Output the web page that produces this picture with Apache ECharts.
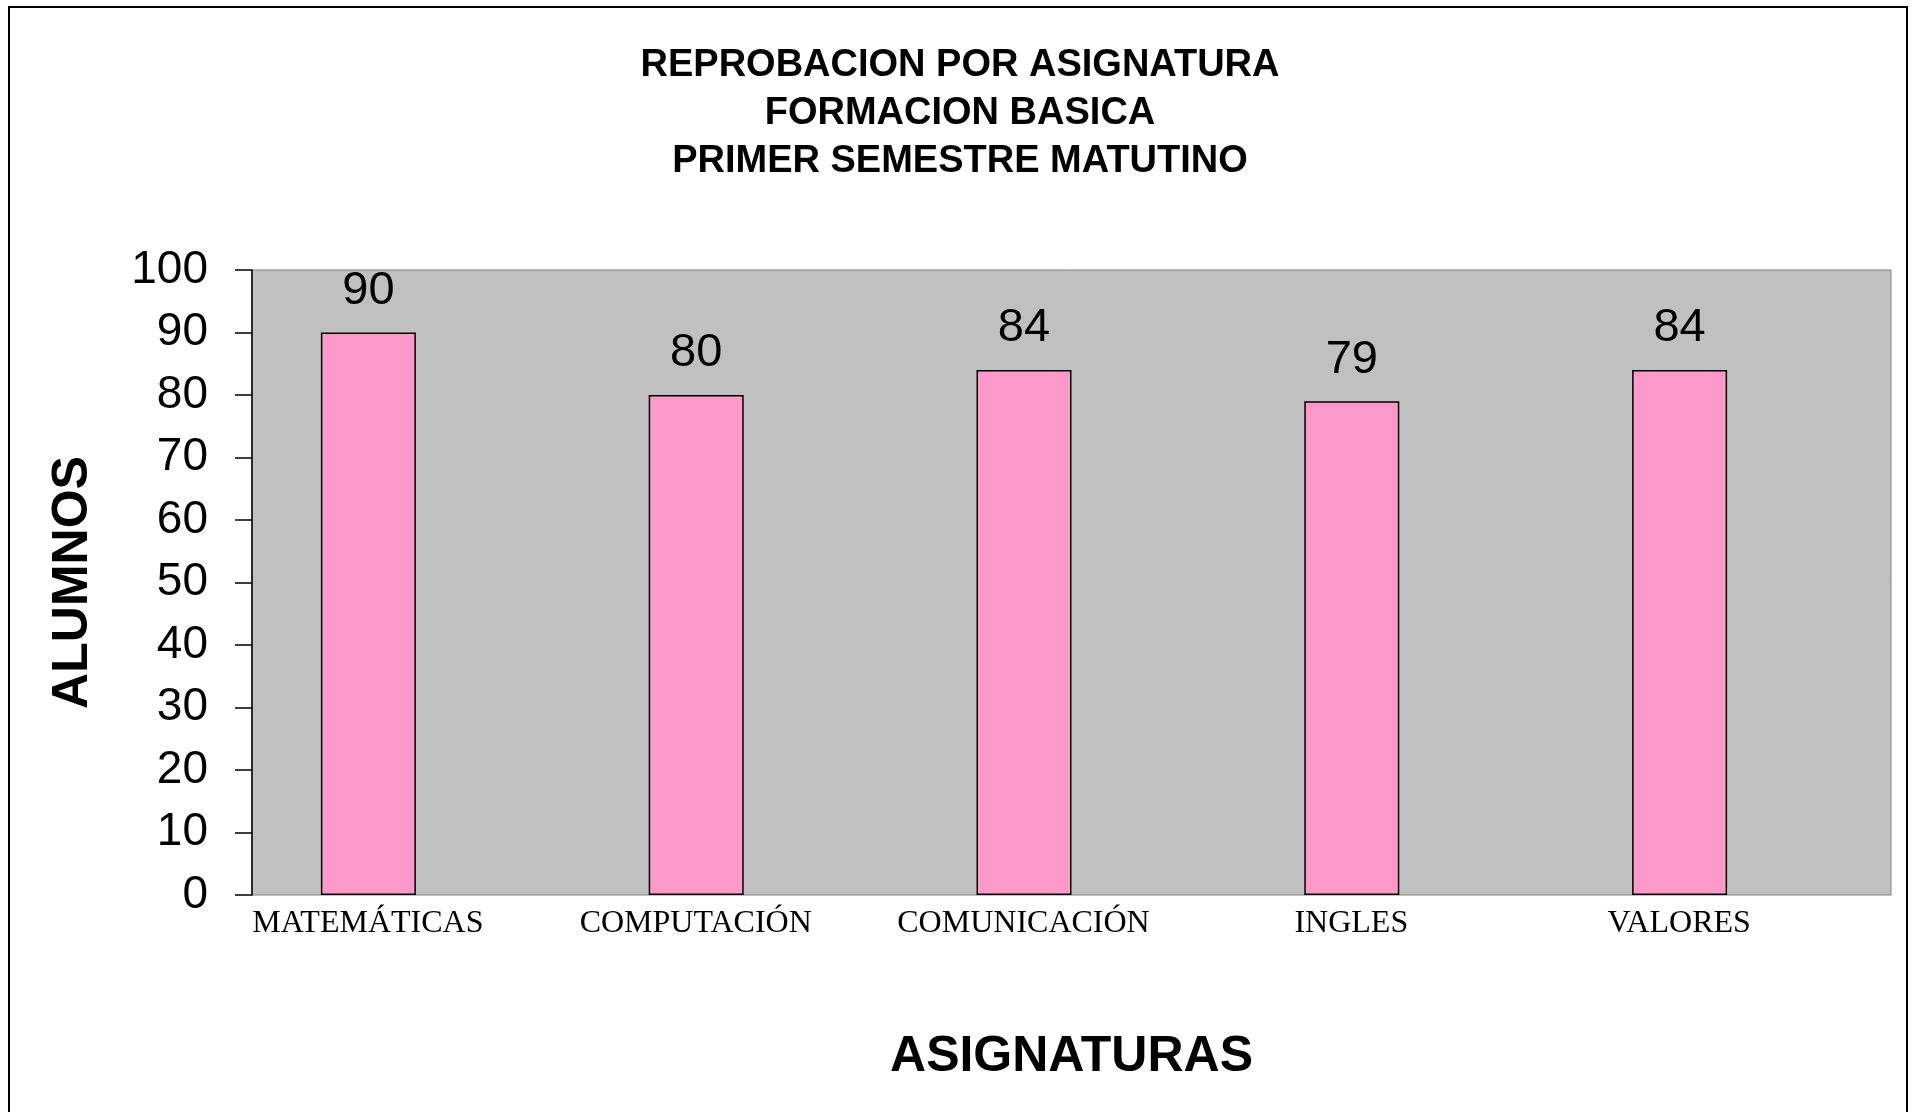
<!DOCTYPE html>
<html>
<head>
<meta charset="utf-8">
<title>Reprobacion por asignatura</title>
<script src="https://cdn.jsdelivr.net/npm/echarts@6/dist/echarts.min.js"></script>
<style>
  html, body { margin: 0; padding: 0; background: #fff; }
  #chart { width: 1913px; height: 1112px; }
</style>
</head>
<body>
<div id="chart"></div>
<script>
// datos
const asignaturas = ['MATEMÁTICAS', 'COMPUTACIÓN', 'COMUNICACIÓN', 'INGLES', 'VALORES']
const reprobados = [90, 80, 84, 79, 84]
const yTicks = [0, 10, 20, 30, 40, 50, 60, 70, 80, 90, 100]

const titulo = 'REPROBACION POR ASIGNATURA\nFORMACION BASICA\nPRIMER SEMESTRE MATUTINO'

const chart = echarts.init(document.getElementById('chart'))

const option = {
  animation: false,
  backgroundColor: '#fff',
  title: {
    text: titulo,
    left: 955,
    top: 37,
    textAlign: 'center',
    textStyle: {
      fontFamily: 'Liberation Sans',
      fontWeight: 'bold',
      fontSize: 38,
      lineHeight: 48,
      color: '#000'
    }
  },
  graphic: [
    {
      type: 'rect',
      shape: { x: 9, y: 7, width: 1898, height: 1200 },
      style: { fill: 'none', stroke: '#000', lineWidth: 2 },
      silent: true
    }
  ],
  grid: {
    show: true,
    left: 252,
    top: 270,
    right: 22,
    bottom: 217,
    backgroundColor: '#C0C0C0',
    borderColor: '#808080',
    borderWidth: 1
  },
  xAxis: {
    type: 'category',
    data: asignaturas,
    name: 'ASIGNATURAS',
    nameLocation: 'middle',
    nameGap: 137,
    nameTextStyle: {
      fontFamily: 'Liberation Sans',
      fontWeight: 'bold',
      fontSize: 50,
      color: '#000'
    },
    axisLine: { show: false },
    axisTick: { show: false },
    axisLabel: {
      interval: 0,
      margin: 13,
      fontFamily: 'Liberation Serif',
      fontSize: 32,
      color: '#000',
      padding: [0, 96, 0, 0]
    }
  },
  yAxis: {
    type: 'value',
    min: yTicks[0],
    max: yTicks[yTicks.length - 1],
    interval: 10,
    name: 'ALUMNOS',
    nameLocation: 'middle',
    nameGap: 154,
    nameTextStyle: {
      fontFamily: 'Liberation Sans',
      fontWeight: 'bold',
      fontSize: 50,
      color: '#000'
    },
    axisLine: { show: true, lineStyle: { color: '#000', width: 1.5 } },
    axisTick: { show: true, inside: false, length: 17, lineStyle: { color: '#000', width: 1.5 } },
    splitLine: { show: false },
    axisLabel: {
      margin: 44,
      fontFamily: 'Liberation Sans',
      fontSize: 46,
      color: '#000'
    }
  },
  series: [
    {
      name: 'Reprobados',
      type: 'bar',
      data: reprobados,
      barWidth: 95,
      barGap: '0%',
      itemStyle: {
        color: '#FF99CC',
        borderColor: '#000',
        borderWidth: 1.5
      },
      label: {
        show: true,
        position: 'top',
        distance: 18,
        fontFamily: 'Liberation Sans',
        fontSize: 47,
        color: '#000'
      }
    },
    {
      // serie vacia del original (ocupa el hueco a la derecha)
      name: '',
      type: 'bar',
      data: [],
      barWidth: 95
    }
  ]
}

chart.setOption(option)
</script>
</body>
</html>
